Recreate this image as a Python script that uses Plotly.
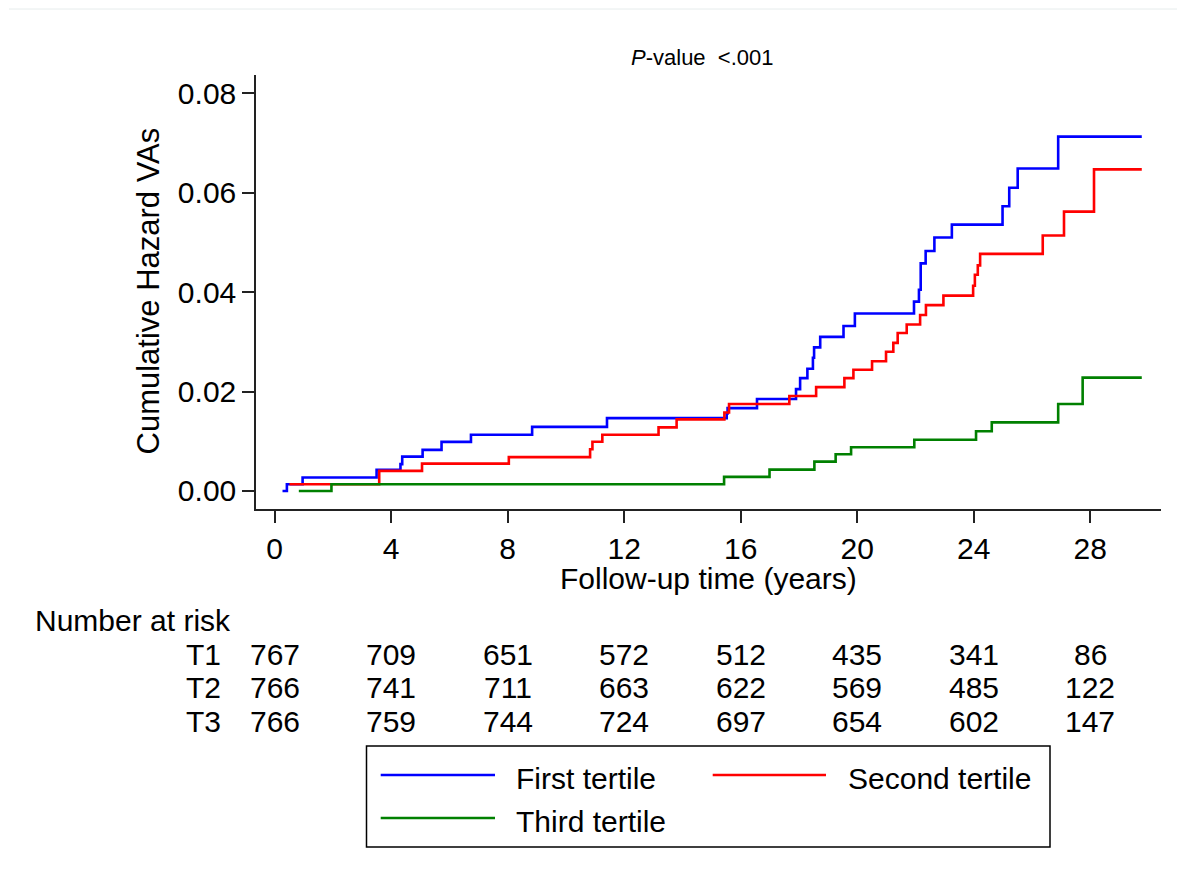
import plotly.graph_objects as go

# ---------------- data ----------------
t1_time = [0.27, 0.42, 0.96, 3.50, 4.32, 4.38, 5.08, 5.73, 6.74, 8.84,
           11.41, 15.52, 15.55, 16.56, 17.90, 18.04, 18.29, 18.48, 18.52, 18.73,
           19.53, 19.92, 21.95, 22.12, 22.18, 22.35, 22.65, 23.25, 24.99, 25.22,
           25.51, 26.90, 29.77]
t1_haz = [0, 0.00135, 0.0027, 0.00424, 0.0054, 0.0069, 0.00827, 0.00988, 0.0113, 0.0129,
          0.01466, 0.0156, 0.01667, 0.0185, 0.0205, 0.0227, 0.0246, 0.0268, 0.0289, 0.0310,
          0.0332, 0.0357, 0.0381, 0.0405, 0.0458, 0.0483, 0.0510, 0.0536, 0.0573, 0.0610,
          0.0649, 0.0713, 0.0713]

t2_time = [0.51, 3.59, 5.06, 8.04, 10.83, 10.91, 11.25, 13.18, 13.80, 15.44,
           15.60, 17.67, 18.59, 19.56, 19.87, 20.51, 20.99, 21.24, 21.39, 21.70,
           22.16, 22.36, 22.96, 23.98, 24.04, 24.14, 24.22, 26.37, 27.10, 28.13,
           29.77]
t2_haz = [0.00135, 0.00404, 0.0055, 0.0068, 0.0084, 0.0099, 0.0113, 0.0128, 0.0144, 0.0158,
          0.0175, 0.0191, 0.0209, 0.0227, 0.0244, 0.0261, 0.0280, 0.0298, 0.0318, 0.0335,
          0.0354, 0.0374, 0.0393, 0.0413, 0.0435, 0.0454, 0.0477, 0.0514, 0.0562, 0.0647,
          0.0647]

t3_time = [0.83, 1.95, 15.43, 16.99, 18.53, 19.26, 19.79, 21.96, 24.08, 24.62,
           26.90, 27.74, 29.77]
t3_haz = [0, 0.00135, 0.00283, 0.0043, 0.0059, 0.0074, 0.0088, 0.0103, 0.0120, 0.0138,
          0.0175, 0.0228, 0.0228]

series_names = ["First tertile", "Second tertile", "Third tertile"]
series_colors = ["#0000ff", "#ff0000", "#008000"]

risk_times = [0, 4, 8, 12, 16, 20, 24, 28]
risk_labels = ["T1", "T2", "T3"]
risk_T1 = [767, 709, 651, 572, 512, 435, 341, 86]
risk_T2 = [766, 741, 711, 663, 622, 569, 485, 122]
risk_T3 = [766, 759, 744, 724, 697, 654, 602, 147]

x_ticks = [0, 4, 8, 12, 16, 20, 24, 28]
y_ticks = [0.00, 0.02, 0.04, 0.06, 0.08]

# ---------------- layout geometry ----------------
# The page body adds an 8px offset, so the figure is sized to fit the window.
OFF = 8
W, H = 1185 - OFF, 882 - OFF
# plot area edges in screen pixels
L, R, T, B = 256, 1161, 75, 509
PW, PH = R - L, B - T

def px(x):
    return (x - L) / PW

def py(y):
    return (B - y) / PH

FONT = "Liberation Sans, Arial, sans-serif"
FS = 30

fig = go.Figure()
for tt, hh, name, col in zip([t1_time, t2_time, t3_time], [t1_haz, t2_haz, t3_haz],
                             series_names, series_colors):
    fig.add_trace(go.Scatter(x=tt, y=hh, mode="lines", line=dict(color=col, width=2.6, shape="hv"),
                             name=name, showlegend=False))

annotations = []
# title
annotations.append(dict(text="<i>P</i>-value\u00a0 &lt;.001", x=px(702), y=py(57), xref="paper", yref="paper",
                        showarrow=False, xanchor="center", yanchor="middle",
                        font=dict(family=FONT, size=22, color="black")))
# axis titles
annotations.append(dict(text="Cumulative Hazard VAs", x=px(148), y=py(291.5), xref="paper", yref="paper",
                        showarrow=False, textangle=-90, xanchor="center", yanchor="middle",
                        font=dict(family=FONT, size=31, color="black")))
annotations.append(dict(text="Follow-up time (years)", x=px(708), y=py(578), xref="paper", yref="paper",
                        showarrow=False, xanchor="center", yanchor="middle",
                        font=dict(family=FONT, size=FS, color="black")))
# number at risk
annotations.append(dict(text="Number at risk", x=px(33), y=py(620), xref="paper", yref="paper",
                        showarrow=False, xanchor="left", yanchor="middle",
                        font=dict(family=FONT, size=FS, color="black")))
row_y = [654, 687.5, 721]
for lab, vals, yy in zip(risk_labels, [risk_T1, risk_T2, risk_T3], row_y):
    annotations.append(dict(text=lab, x=px(223), y=py(yy), xref="paper", yref="paper",
                            showarrow=False, xanchor="right", yanchor="middle",
                            font=dict(family=FONT, size=FS, color="black")))
    for tx, v in zip(risk_times, vals):
        annotations.append(dict(text=str(v), x=tx, y=py(yy), xref="x", yref="paper",
                                showarrow=False, xanchor="center", yanchor="middle",
                                font=dict(family=FONT, size=FS, color="black")))

# manual legend
shapes = []
shapes.append(dict(type="rect", xref="paper", yref="paper", x0=px(366.5), x1=px(1050),
                   y0=py(847), y1=py(746), line=dict(color="black", width=1.5), fillcolor="white"))
leg_items = [(380.7, 495, 775, 514.3, 778), (712.7, 826, 775, 846, 778), (380.7, 495, 818, 514.3, 821)]
for (lx0, lx1, ly, tx, ty), name, col in zip(leg_items, series_names, series_colors):
    shapes.append(dict(type="line", xref="paper", yref="paper", x0=px(lx0), x1=px(lx1),
                       y0=py(ly), y1=py(ly), line=dict(color=col, width=2.6)))
    annotations.append(dict(text=name, x=px(tx), y=py(ty), xref="paper", yref="paper",
                            showarrow=False, xanchor="left", yanchor="middle",
                            font=dict(family=FONT, size=FS, color="black")))
# faint top border line
shapes.append(dict(type="line", xref="paper", yref="paper", x0=px(9), x1=px(1185),
                   y0=py(9), y1=py(9), line=dict(color="#e6ecec", width=1)))

axis_common = dict(showgrid=False, zeroline=False, showline=True, linecolor="#222222", linewidth=1.5,
                   ticks="outside", ticklen=12, tickwidth=1.5, tickcolor="#222222",
                   tickfont=dict(family=FONT, size=FS, color="black"))

fig.update_layout(
    width=W, height=H,
    margin=dict(l=L - OFF, r=W - (R - OFF), t=T - OFF, b=H - (B - OFF), pad=0),
    paper_bgcolor="white", plot_bgcolor="white",
    xaxis=dict(range=[-0.64, 30.43], tickvals=x_ticks, **axis_common),
    yaxis=dict(range=[-0.00363, 0.0837], tickvals=y_ticks, tickformat=".2f", **axis_common),
    annotations=annotations, shapes=shapes, showlegend=False,
)

fig.write_html("out.html")
